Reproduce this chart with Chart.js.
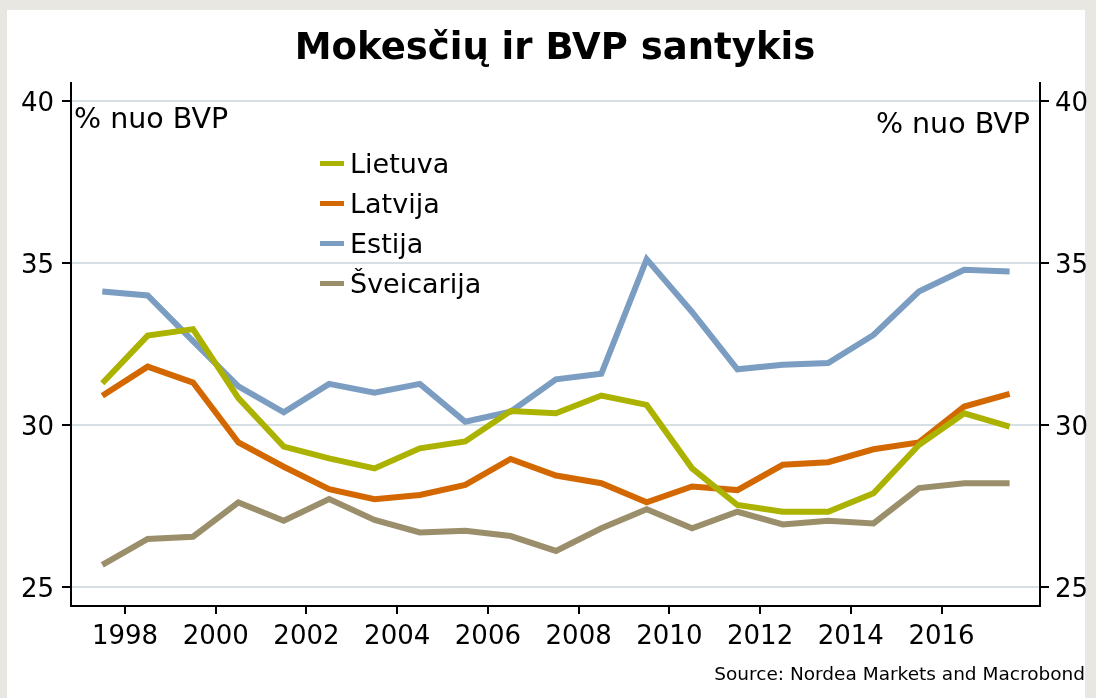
<!DOCTYPE html>
<html>
<head>
<meta charset="utf-8">
<script src="https://cdn.jsdelivr.net/npm/chart.js@4/dist/chart.umd.min.js"></script>
<style>
  html, body { margin:0; padding:0; }
  body { width:1096px; height:698px; background:#e8e7e2; position:relative; overflow:hidden; font-family:"DejaVu Sans", Verdana, sans-serif; }
  #panel { position:absolute; left:7px; top:10px; width:1078px; height:688px; background:#fff; }
  #wrap { position:absolute; left:0; top:0; width:1096px; height:698px; }
  #title { position:absolute; left:0; width:1110px; top:25px; text-align:center; font-weight:bold; font-size:37px; color:#000; white-space:nowrap; }
  .unit { position:absolute; font-size:28.5px; color:#000; white-space:nowrap; }
  #source { position:absolute; right:11px; top:663px; font-size:18.5px; color:#000; white-space:nowrap; }
  #legend { position:absolute; left:320px; top:143px; }
  .lrow { height:40px; display:flex; align-items:center; font-size:27px; color:#000; white-space:nowrap; }
  .sw { width:24px; height:5px; margin-right:6px; }
</style>
</head>
<body>
<div id="panel"></div>
<div id="wrap"><canvas id="c" width="1096" height="698"></canvas></div>
<div id="title">Mokesčių ir BVP santykis</div>
<div class="unit" style="left:74px; top:102px;">% nuo BVP</div>
<div class="unit" style="right:66px; top:107px;">% nuo BVP</div>
<div id="legend"></div>
<div id="source">Source: Nordea Markets and Macrobond</div>
<script>
// ---- data ----
const years = [1997,1998,1999,2000,2001,2002,2003,2004,2005,2006,2007,2008,2009,2010,2011,2012,2013,2014,2015,2016,2017];
const seriesNames = ["Lietuva","Latvija","Estija","Šveicarija"];
const lietuva    = [31.30,32.77,32.97,30.84,29.34,28.98,28.67,29.29,29.50,30.44,30.37,30.92,30.63,28.67,27.54,27.33,27.33,27.90,29.39,30.37,29.96];
const latvija    = [30.91,31.81,31.32,29.47,28.72,28.03,27.72,27.85,28.16,28.96,28.45,28.21,27.62,28.11,28.00,28.78,28.86,29.26,29.47,30.58,30.97];
const estija     = [34.13,34.01,32.60,31.20,30.40,31.28,31.01,31.28,30.11,30.42,31.42,31.59,35.13,33.50,31.73,31.87,31.92,32.79,34.13,34.80,34.75];
const sveicarija = [25.69,26.49,26.56,27.62,27.05,27.72,27.08,26.69,26.74,26.58,26.12,26.82,27.41,26.82,27.33,26.94,27.05,26.97,28.06,28.21,28.21];
const xTickLabels = [1998,2000,2002,2004,2006,2008,2010,2012,2014,2016];
const yTickLabels = [25,30,35,40];
const colors = ["#abb300","#d46800","#7b9dc2","#9b8f6b"];

const allSeries = [lietuva, latvija, estija, sveicarija];
const datasets = allSeries.map((vals, i) => ({
  label: seriesNames[i],
  data: vals.map((v, k) => ({ x: years[k] + 0.5, y: v })),
  borderColor: colors[i],
  backgroundColor: colors[i],
  borderWidth: 6,
  pointRadius: 0,
  tension: 0,
  borderJoinStyle: 'miter',
  borderCapStyle: 'butt',
  yAxisID: 'y',
  order: i
}));

const legend = document.getElementById('legend');
seriesNames.forEach((n, i) => {
  const r = document.createElement('div'); r.className = 'lrow';
  const s = document.createElement('div'); s.className = 'sw'; s.style.background = colors[i];
  const t = document.createElement('span'); t.textContent = n;
  r.appendChild(s); r.appendChild(t); legend.appendChild(r);
});

const tickFont = { family: "DejaVu Sans", size: 26 };
function yTicks(scale) { scale.ticks = yTickLabels.map(v => ({ value: v })); }

new Chart(document.getElementById('c'), {
  type: 'line',
  data: { datasets },
  options: {
    responsive: false,
    animation: false,
    layout: { padding: { top: 83, left: 0, right: 0, bottom: 0 } },
    plugins: { legend: { display: false }, tooltip: { enabled: false } },
    scales: {
      x: {
        type: 'linear',
        min: 1996.81, max: 2018.17,
        afterBuildTicks: (s) => { s.ticks = xTickLabels.map(v => ({ value: v })); },
        afterFit: (s) => { s.height = 92; },
        ticks: { font: tickFont, color: '#000', padding: 8, maxRotation: 0, autoSkip: false, callback: (v) => String(v) },
        grid: { drawOnChartArea: false, drawTicks: true, tickLength: 8, color: '#000', lineWidth: 2 },
        border: { display: true, color: '#000', width: 2 }
      },
      y: {
        position: 'left',
        min: 24.42, max: 40.57,
        afterBuildTicks: yTicks,
        afterFit: (s) => { s.width = 71; },
        ticks: { font: tickFont, color: '#000', padding: 8, labelOffset: 3, callback: (v) => String(v) },
        grid: { color: '#d6e0e4', lineWidth: 2, tickColor: '#000', tickLength: 9, drawTicks: true },
        border: { display: true, color: '#000', width: 2 }
      },
      y2: {
        position: 'right',
        min: 24.42, max: 40.57,
        afterBuildTicks: yTicks,
        afterFit: (s) => { s.width = 56; },
        ticks: { font: tickFont, color: '#000', padding: 6, labelOffset: 3, callback: (v) => String(v) },
        grid: { drawOnChartArea: false, tickColor: '#000', color: '#000', tickLength: 9, lineWidth: 2 },
        border: { display: true, color: '#000', width: 2 }
      }
    }
  }
});
</script>
</body>
</html>
